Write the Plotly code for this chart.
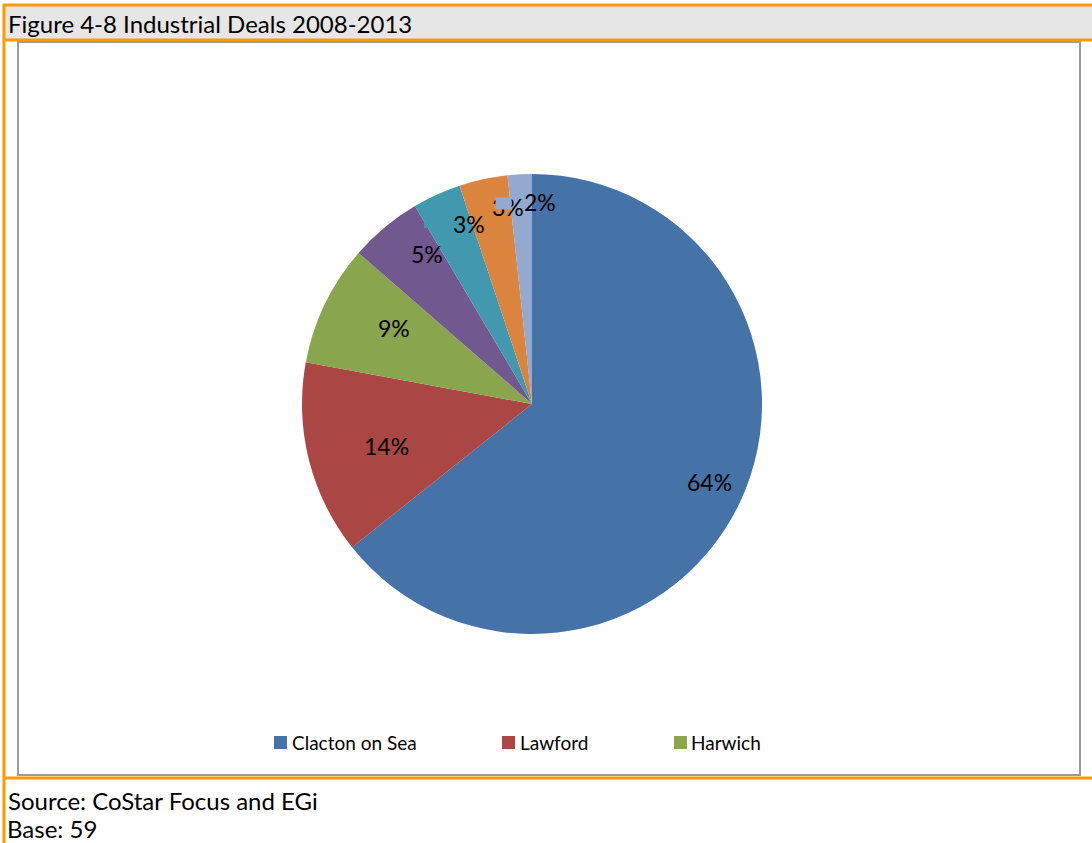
import plotly.graph_objects as go

# Industrial deals by location, 2008-2013 (share of deals, %)
locations = ["Clacton on Sea", "Lawford", "Harwich", "Area 4", "Area 5", "Area 6", "Area 7"]
share_pct = [64.3, 13.6, 8.5, 5.1, 3.4, 3.4, 1.7]
colors = ["#4572A7", "#AA4643", "#89A54E", "#71588F", "#4198AF", "#DB843D", "#93A9CF"]
legend_items = ["Clacton on Sea", "Lawford", "Harwich"]
base_count = 59

title_text = "Figure 4-8 Industrial Deals 2008-2013"
source_text = "Source: CoStar Focus and EGi"
base_text = f"Base: {base_count}"

W, H = 1092, 843
FONT = "Lato, Calibri, sans-serif"
ORANGE = "#FF9900"


def px(x):
    return x / W


def py(y):
    return 1 - y / H


def pct_label(v, total):
    # whole-percent label, halves rounded up
    return f"{int(v * 100 / total + 0.5 + 1e-9)}%"


# pie geometry in pixels
cx, cy, r = 532, 404, 230

fig = go.Figure()
fig.add_trace(go.Pie(
    labels=locations,
    values=share_pct,
    marker=dict(colors=colors, line=dict(width=0)),
    sort=False,
    direction="clockwise",
    rotation=0,
    textinfo="none",
    showlegend=False,
    hoverinfo="label+percent",
    domain=dict(x=[px(cx - r), px(cx + r)], y=[py(cy + r), py(cy - r)]),
))

shapes = []
# header band and frame lines
shapes.append(dict(type="rect", xref="paper", yref="paper", x0=px(5), x1=px(W), y0=py(39), y1=py(6),
                   fillcolor="#E6E6E6", line=dict(width=0), layer="below"))
shapes.append(dict(type="rect", xref="paper", yref="paper", x0=px(18), x1=px(1080), y0=py(775), y1=py(42),
                   fillcolor="white", line=dict(color="#9A9A9A", width=2), layer="below"))
for y in (5, 40, 778):
    shapes.append(dict(type="line", xref="paper", yref="paper", x0=px(3), x1=px(W), y0=py(y), y1=py(y),
                       line=dict(color=ORANGE, width=3)))
shapes.append(dict(type="line", xref="paper", yref="paper", x0=px(4), x1=px(4), y0=py(4), y1=py(H),
                   line=dict(color=ORANGE, width=3)))
# small slice-coloured notch beside the teal label
shapes.append(dict(type="rect", xref="paper", yref="paper", x0=px(424), x1=px(429), y0=py(228), y1=py(222),
                   fillcolor=colors[4], line=dict(width=0), layer="above"))

# legend keys
key_x = [274, 502, 674]
for i, name in enumerate(legend_items):
    shapes.append(dict(type="rect", xref="paper", yref="paper", x0=px(key_x[i]), x1=px(key_x[i] + 13),
                       y0=py(749), y1=py(736), fillcolor=colors[i], line=dict(width=0)))

TXT = dict(family=FONT, size=24, color="#000000")
annotations = []
annotations.append(dict(text=title_text, x=px(6), y=py(23), xref="paper", yref="paper",
                        xanchor="left", yanchor="middle", showarrow=False, font=TXT))
annotations.append(dict(text=source_text, x=px(6), y=py(800), xref="paper", yref="paper",
                        xanchor="left", yanchor="middle", showarrow=False, font=TXT))
annotations.append(dict(text=base_text, x=px(6), y=py(828), xref="paper", yref="paper",
                        xanchor="left", yanchor="middle", showarrow=False, font=TXT,
                        height=26, borderpad=0))

text_x = [290, 518, 689]
for i, name in enumerate(legend_items):
    annotations.append(dict(text=name, x=px(text_x[i]), y=py(742), xref="paper", yref="paper",
                            xanchor="left", yanchor="middle", showarrow=False,
                            font=dict(family=FONT, size=19, color="#000000")))

# percentage labels for each slice
label_pos = [(709, 482), (386, 446), (394, 328), (427, 254), (469, 224), (508, 207), (540, 202)]
total = sum(share_pct)
for i, (v, (lx, ly)) in enumerate(zip(share_pct, label_pos)):
    annotations.append(dict(text=pct_label(v, total), x=px(lx), y=py(ly),
                            xref="paper", yref="paper", xanchor="center", yanchor="middle",
                            showarrow=False, font=dict(family=FONT, size=23, color="#000000")))
    if i == 5:
        # light-blue key patch lying over the orange slice label
        annotations.append(dict(text=" ", x=px(495), y=py(197), xref="paper", yref="paper",
                                xanchor="left", yanchor="top", showarrow=False,
                                width=15, height=11, bgcolor=colors[6], borderpad=0,
                                font=dict(size=6)))

fig.update_layout(
    width=W, height=H,
    margin=dict(l=0, r=0, t=0, b=0),
    paper_bgcolor="white",
    plot_bgcolor="white",
    shapes=shapes,
    annotations=annotations,
)

fig.write_html("out.html")
